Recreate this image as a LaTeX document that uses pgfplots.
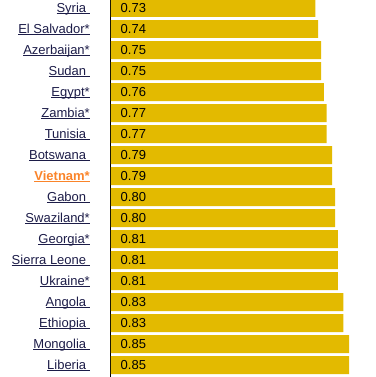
\documentclass[border=0pt]{standalone}
\usepackage{pgfplots}
\pgfplotsset{compat=1.18}
\usepackage{pgfplotstable}
\usepackage{fontspec}
\setmainfont{Liberation Sans}
\definecolor{barGold}{RGB}{227,186,0}
\definecolor{linkNavy}{RGB}{28,28,72}
\definecolor{vietOrange}{RGB}{250,132,42}
\newcommand{\ulk}[1]{\setbox0=\hbox{#1}\rlap{\rule[-1.7pt]{\wd0}{0.9pt}}\box0}
\pgfplotstableread{
row val
1 0.73
2 0.74
3 0.75
4 0.75
5 0.76
6 0.77
7 0.77
8 0.79
9 0.79
10 0.80
11 0.80
12 0.81
13 0.81
14 0.81
15 0.83
16 0.83
17 0.85
18 0.85
}\hdidata
\begin{document}
\begin{tikzpicture}
\begin{axis}[
  at={(0pt,0pt)}, anchor=south west,
  scale only axis,
  width=264pt, height=377pt,
  xmin=0, xmax=0.942857,
  ymin=0.619, ymax=18.571,
  y dir=reverse,
  axis x line=none,
  axis y line*=left,
  y axis line style={-, black, line width=1pt},
  ytick={1,...,18},
  major tick length=0pt,
  yticklabels={
    {\ulk{Syria\ }},
    {\ulk{El Salvador*}},
    {\ulk{Azerbaijan*}},
    {\ulk{Sudan\ }},
    {\ulk{Egypt*}},
    {\ulk{Zambia*}},
    {\ulk{Tunisia\ }},
    {\ulk{Botswana\ }},
    {\color{vietOrange}\ulk{\bfseries Vietnam*}},
    {\ulk{Gabon\ }},
    {\ulk{Swaziland*}},
    {\ulk{Georgia*}},
    {\ulk{Sierra Leone\ }},
    {\ulk{Ukraine*}},
    {\ulk{Angola\ }},
    {\ulk{Ethiopia\ }},
    {\ulk{Mongolia\ }},
    {\ulk{Liberia\ }}
  },
  yticklabel style={anchor=base east, inner sep=0pt, xshift=-21pt, yshift=-4.5pt,
    text=linkNavy, font=\fontsize{13}{15}\selectfont},
  bar width=0.857,
  /pgf/number format/.cd, fixed, zerofill, precision=2, assume math mode=true,
]
\addplot[xbar, bar shift=0pt, draw=none, fill=barGold] table[x=val, y=row] {\hdidata};
\addplot[draw=none, mark=none, nodes near coords, point meta=explicit,
  every node near coord/.style={anchor=base west, inner sep=0pt, xshift=9.5pt, yshift=-4.5pt,
    text=black, font=\fontsize{13}{15}\selectfont}]
  table[x expr=0, y=row, meta=val] {\hdidata};
\end{axis}
\pgfresetboundingbox
\path[use as bounding box] (-111pt,0pt) rectangle (264pt,377pt);
\end{tikzpicture}
\end{document}
